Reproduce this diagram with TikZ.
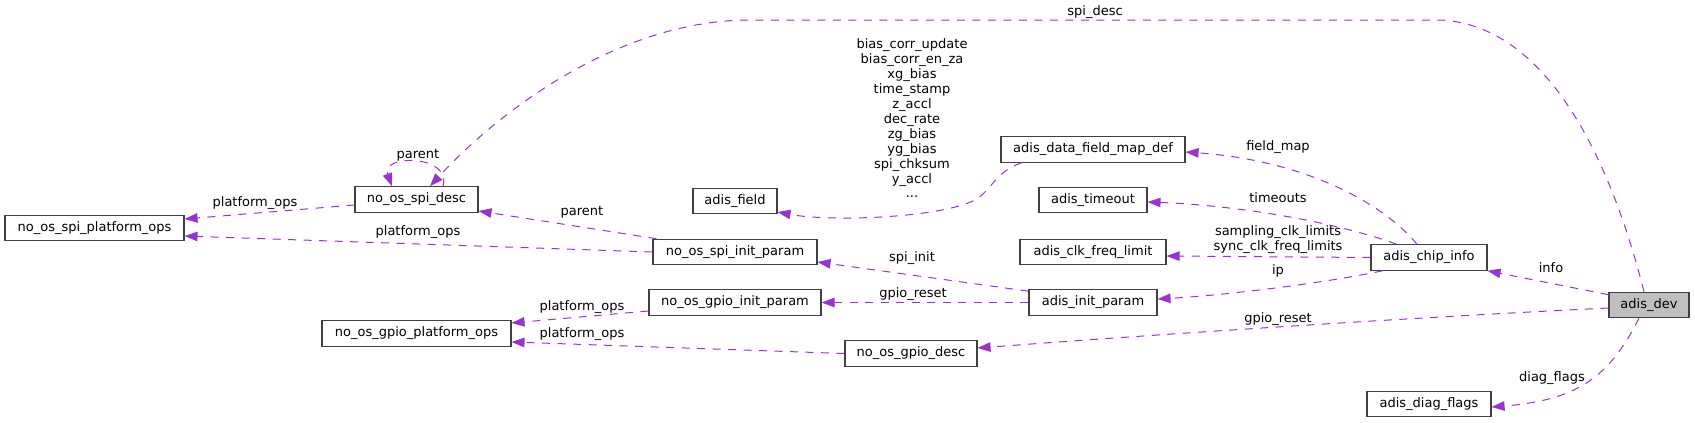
\documentclass[tikz,border=0pt]{standalone}
\usepackage{fontspec}
\setmainfont{DejaVu Sans}
\usetikzlibrary{arrows.meta}
\definecolor{edgec}{HTML}{9A32CD}
\definecolor{boxc}{HTML}{404040}
\definecolor{devfill}{HTML}{BFBFBF}
\begin{document}
\begin{tikzpicture}[x=1pt,y=-1pt,
  cls/.style={draw=boxc, line width=1.1pt, minimum height=25.5pt, inner sep=0pt,
    font=\fontsize{13}{15}\selectfont, anchor=center},
  lbl/.style={inner sep=0pt, font=\fontsize{13}{15}\selectfont, text=black, anchor=center},
  rel/.style={draw=edgec, line width=1pt, dash pattern=on 8pt off 7.5pt,
    -{Triangle[length=13pt,width=9.5pt]}}]
\useasboundingbox (0,0) rectangle (1695,423);

% classes
\node[cls, minimum width=179pt] (spiops) at (94.5,228) {no\_os\_spi\_platform\_ops};
\node[cls, minimum width=123pt] (spidesc) at (416.5,199.5) {no\_os\_spi\_desc};
\node[cls, minimum width=189pt] (gpioops) at (416.5,333.5) {no\_os\_gpio\_platform\_ops};
\node[cls, minimum width=84pt] (adisfield) at (735,201) {adis\_field};
\node[cls, minimum width=164pt] (spiinit) at (735,252) {no\_os\_spi\_init\_param};
\node[cls, minimum width=172pt] (gpioinit) at (735,302.5) {no\_os\_gpio\_init\_param};
\node[cls, minimum width=132pt] (gpiodesc) at (911,353.5) {no\_os\_gpio\_desc};
\node[cls, minimum width=184pt] (fieldmap) at (1093,149.5) {adis\_data\_field\_map\_def};
\node[cls, minimum width=108pt] (timeout) at (1093,200) {adis\_timeout};
\node[cls, minimum width=146pt] (clk) at (1093,252) {adis\_clk\_freq\_limit};
\node[cls, minimum width=128pt] (initparam) at (1093,302.5) {adis\_init\_param};
\node[cls, minimum width=116pt] (chip) at (1429,257.5) {adis\_chip\_info};
\node[cls, minimum width=80pt, fill=devfill] (dev) at (1649,305) {adis\_dev};
\node[cls, minimum width=124pt] (diag) at (1429,404) {adis\_diag\_flags};

% connectors
\draw[rel] ([yshift=-5.5pt]spidesc.west) -- ([yshift=9pt]spiops.east);
\draw[rel] ([xshift=26.5pt]spidesc.north) .. controls ([xshift=35.5pt,yshift=32pt]spidesc.north) and ([xshift=-36.5pt,yshift=32pt]spidesc.north) .. ([xshift=-24.5pt]spidesc.north);
\draw[rel] ([xshift=4pt]spiinit.north west) -- ([yshift=-11.5pt]spidesc.east);
\draw[rel] (spiinit.west) -- ([yshift=-8pt]spiops.east);
\draw[rel] ([yshift=-8.5pt]gpioinit.west) -- ([yshift=10.5pt]gpioops.east);
\draw[rel] (gpiodesc.west) -- ([yshift=-8.5pt]gpioops.east);
\draw[rel] ([xshift=21pt]fieldmap.south west) .. controls (995,172) and (992,190) .. (975,200)
   .. controls (940,218) and (830,222) .. ([yshift=-11pt]adisfield.east);
\draw[rel] ([yshift=-2pt]initparam.north west) -- ([yshift=-10pt]spiinit.east);
\draw[rel] (initparam.west) -- (gpioinit.east);
\draw[rel] ([yshift=-3pt]dev.west) .. controls (1400,318) and (1150,335) .. ([yshift=5.5pt]gpiodesc.east);
\draw[rel] ([xshift=-12pt]chip.north) .. controls (1380,200) and (1300,160) .. ([yshift=-2.5pt]fieldmap.east);
\draw[rel] ([xshift=26pt]chip.north west) .. controls (1330,220) and (1230,205) .. ([yshift=-2pt]timeout.east);
\draw[rel] (chip.west) -- ([yshift=-4pt]clk.east);
\draw[rel] ([xshift=12pt]chip.south west) .. controls (1330,282) and (1230,295) .. ([yshift=3.5pt]initparam.east);
\draw[rel] ([yshift=-3pt]dev.north west) -- (chip.south east);
\draw[rel] ([xshift=-5pt]dev.north) .. controls (1622,205) and (1565,28) .. (1442,20) -- (750,20)
   .. controls (620,20) and (500,110) .. ([xshift=13.5pt]spidesc.north);
\draw[rel] ([xshift=-10pt]dev.south) .. controls (1610,375) and (1580,400) .. ([yshift=-3pt]diag.east);

% labels
\node[lbl] (l1) at (255,203) {platform\_ops};
\node[lbl] (l2) at (418,155) {parent};
\node[lbl] (l3) at (582,212) {parent};
\node[lbl] (l4) at (418,232) {platform\_ops};
\node[lbl] (l5) at (582,307) {platform\_ops};
\node[lbl] (l6) at (582,334) {platform\_ops};
\node[lbl, align=center, font=\fontsize{13}{14.9}\selectfont] (l7) at (912,118.5)
  {bias\_corr\_update\\bias\_corr\_en\_za\\xg\_bias\\time\_stamp\\z\_accl\\dec\_rate\\zg\_bias\\yg\_bias\\spi\_chksum\\y\_accl\\...};
\node[lbl] (l8) at (912,258) {spi\_init};
\node[lbl] (l9) at (913,294) {gpio\_reset};
\node[lbl] (l10) at (1278,319) {gpio\_reset};
\node[lbl] (l11) at (1278,147) {field\_map};
\node[lbl] (l12) at (1278,198) {timeouts};
\node[lbl, align=center, font=\fontsize{13}{15}\selectfont] (l13) at (1278,239.5) {sampling\_clk\_limits\\sync\_clk\_freq\_limits};
\node[lbl] (l14) at (1278,271) {ip};
\node[lbl] (l15) at (1551,268) {info};
\node[lbl] (l16) at (1095,12) {spi\_desc};
\node[lbl] (l17) at (1552,378) {diag\_flags};
\end{tikzpicture}
\end{document}
